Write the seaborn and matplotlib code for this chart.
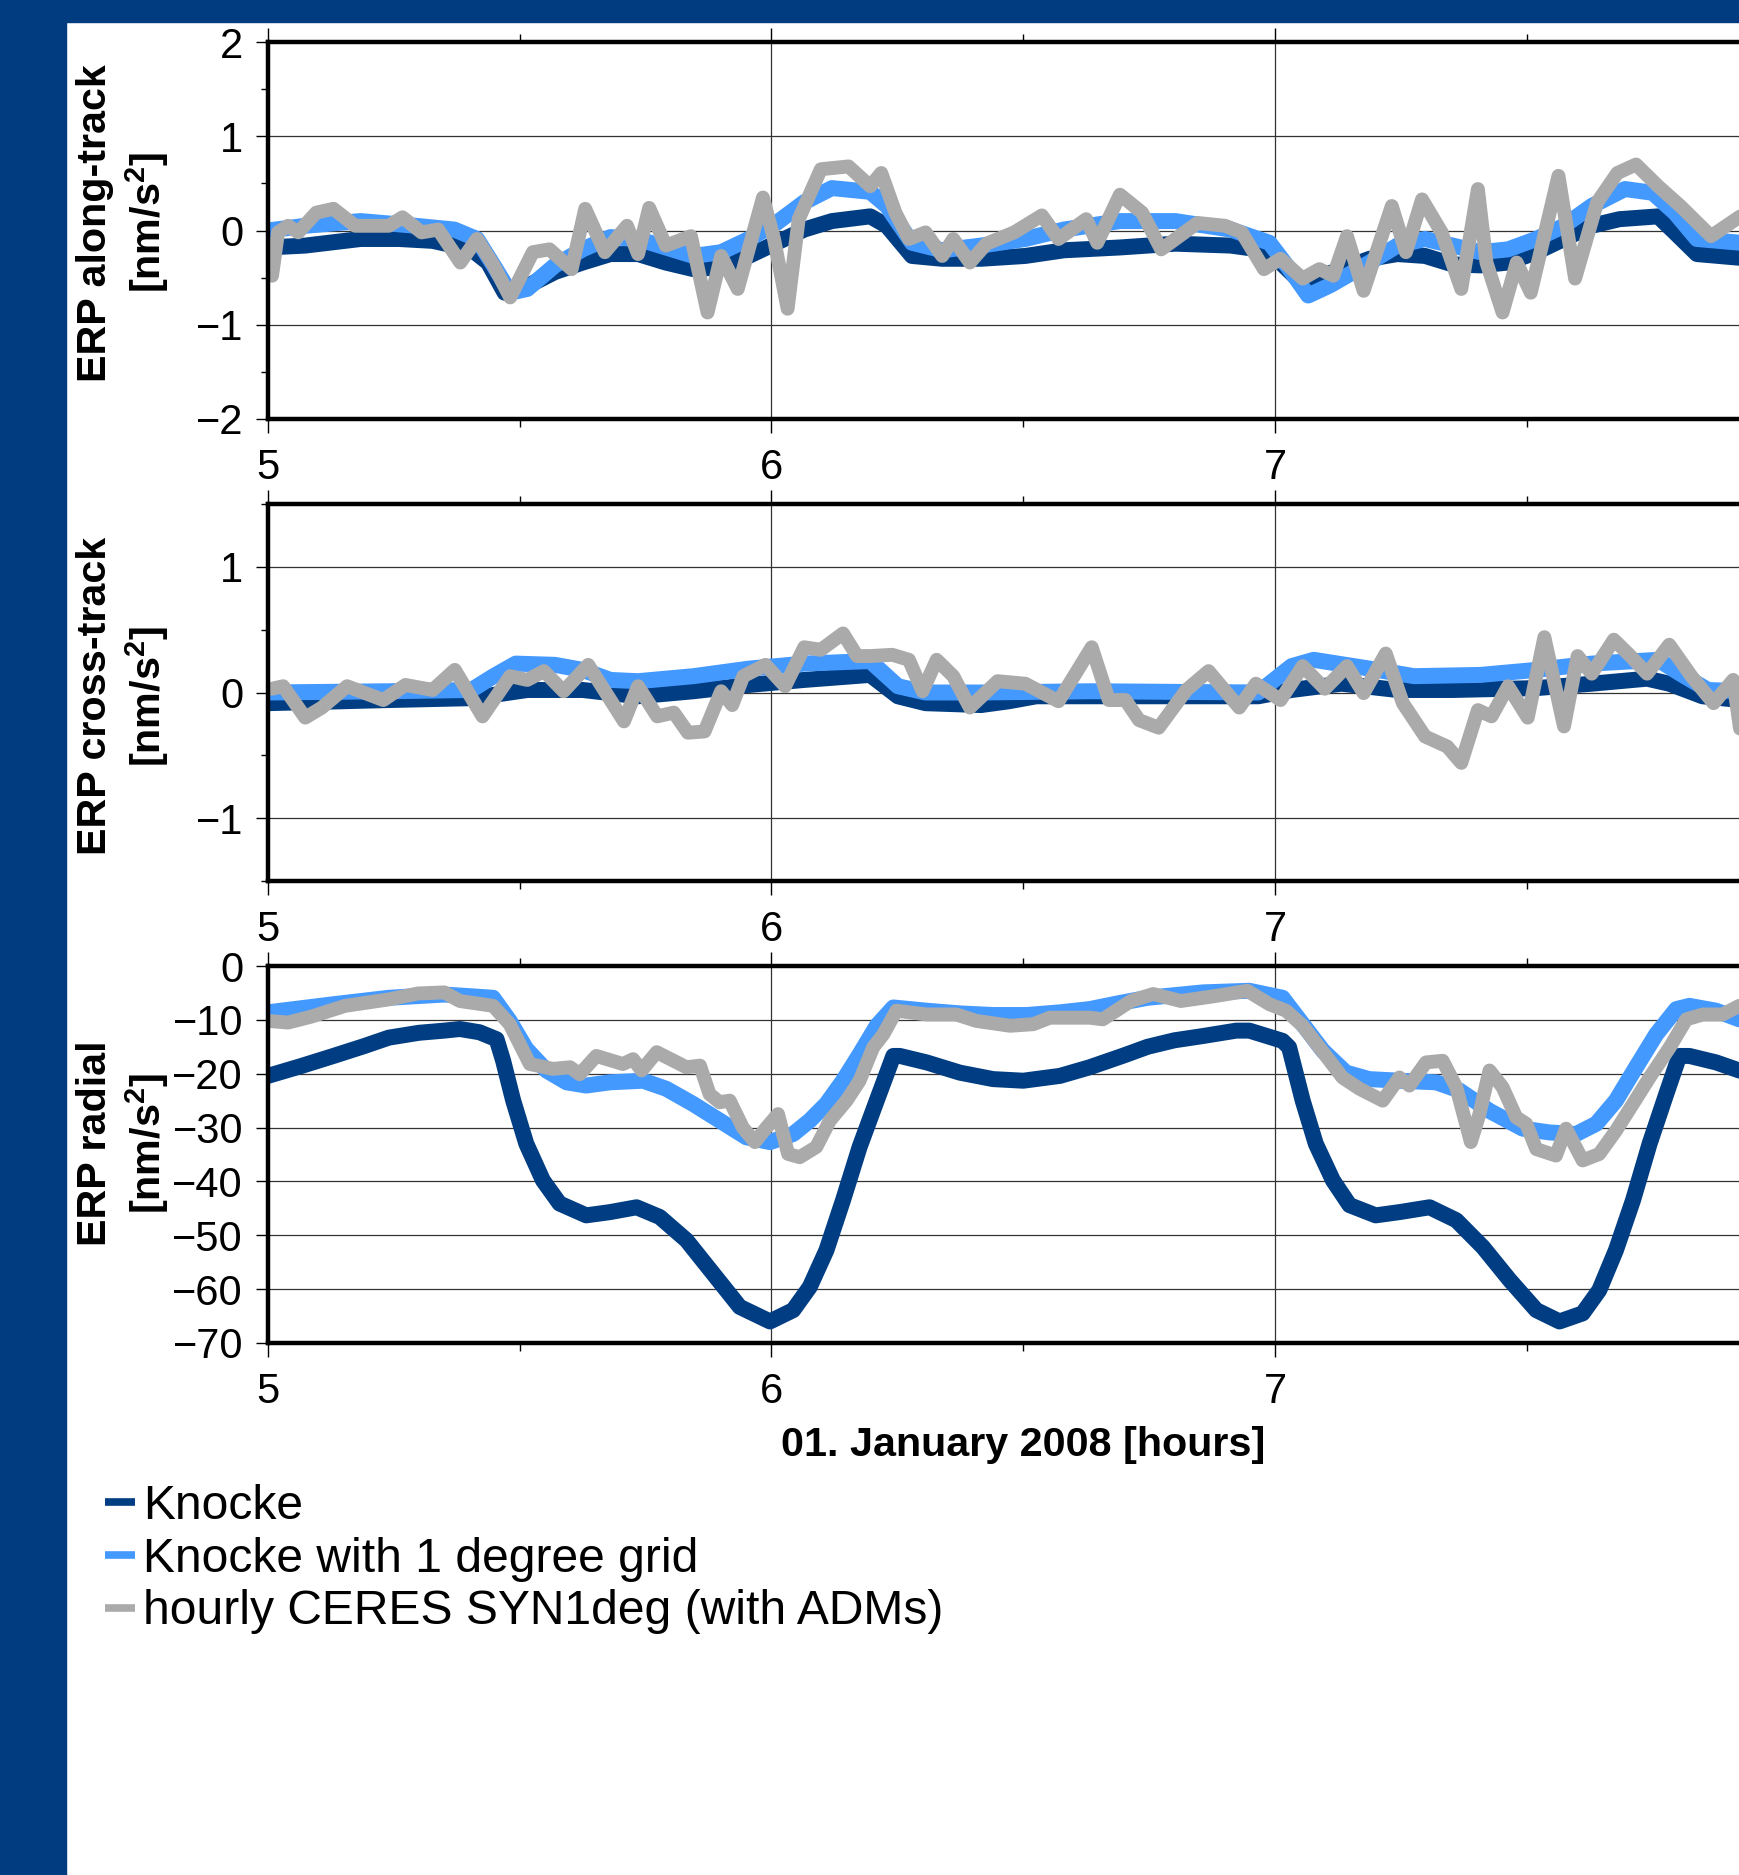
import numpy as np
import pandas as pd
import matplotlib
matplotlib.use("Agg")
import matplotlib.pyplot as plt
from matplotlib.patches import Rectangle
from matplotlib.ticker import MultipleLocator, NullLocator, FuncFormatter
import seaborn as sns

# colours
dark_blue = '#003D82'
light_blue = '#4499FF'
grey = '#AAAAAA'
band_blue = '#013C80'

# ---- along-track ----
t_along_knocke = [5.0, 5.074, 5.184, 5.26, 5.327, 5.404, 5.437, 5.47, 5.515, 5.57, 5.625, 5.68, 5.735,
                  5.79, 5.845, 5.9, 5.955, 6.01, 6.065, 6.12, 6.196, 6.229, 6.279, 6.339, 6.416, 6.504,
                  6.581, 6.692, 6.802, 6.912, 6.967, 7.011, 7.044, 7.077, 7.132, 7.188, 7.243, 7.298,
                  7.353, 7.408, 7.463, 7.519, 7.574, 7.629, 7.684, 7.761, 7.794, 7.838, 7.924, 8.0]
along_knocke = [-0.18, -0.16, -0.09, -0.09, -0.11, -0.2, -0.34, -0.66, -0.59, -0.44, -0.34, -0.25, -0.25,
                -0.34, -0.41, -0.39, -0.27, -0.13, 0.01, 0.1, 0.15, 0.05, -0.27, -0.3, -0.3, -0.27,
                -0.21, -0.18, -0.14, -0.16, -0.2, -0.34, -0.51, -0.51, -0.41, -0.3, -0.25, -0.27,
                -0.36, -0.37, -0.34, -0.23, -0.09, 0.05, 0.12, 0.15, -0.02, -0.25, -0.29, -0.3]

t_along_grid = [5.0, 5.074, 5.184, 5.293, 5.37, 5.415, 5.448, 5.481, 5.515, 5.57, 5.625, 5.68, 5.735,
                5.79, 5.845, 5.9, 5.955, 6.01, 6.065, 6.12, 6.196, 6.229, 6.279, 6.339, 6.416, 6.504,
                6.581, 6.692, 6.802, 6.912, 6.989, 7.033, 7.066, 7.11, 7.188, 7.243, 7.298, 7.353,
                7.408, 7.463, 7.519, 7.574, 7.629, 7.695, 7.75, 7.794, 7.838, 7.924, 8.0]
along_grid = [0.0, 0.05, 0.1, 0.05, 0.01, -0.09, -0.37, -0.66, -0.62, -0.37, -0.2, -0.07, -0.09,
              -0.18, -0.27, -0.23, -0.09, 0.08, 0.3, 0.45, 0.41, 0.26, -0.13, -0.21, -0.16, -0.09,
              0.01, 0.1, 0.1, 0.01, -0.13, -0.44, -0.69, -0.58, -0.34, -0.16, -0.09, -0.16,
              -0.23, -0.2, -0.09, 0.05, 0.26, 0.44, 0.4, 0.19, -0.09, -0.13, -0.14]

t_along_ceres = [5.008, 5.02, 5.04, 5.06, 5.096, 5.13, 5.173, 5.24, 5.267, 5.305, 5.338, 5.382, 5.415,
                 5.448, 5.481, 5.526, 5.559, 5.603, 5.63, 5.669, 5.713, 5.735, 5.757, 5.79, 5.84,
                 5.873, 5.9, 5.933, 5.983, 6.005, 6.032, 6.054, 6.098, 6.153, 6.196, 6.218, 6.246,
                 6.273, 6.306, 6.339, 6.361, 6.394, 6.427, 6.482, 6.537, 6.57, 6.625, 6.647, 6.692,
                 6.736, 6.774, 6.846, 6.901, 6.934, 6.978, 7.011, 7.055, 7.088, 7.116, 7.143, 7.176,
                 7.232, 7.26, 7.292, 7.331, 7.37, 7.403, 7.42, 7.452, 7.48, 7.508, 7.563, 7.596,
                 7.64, 7.68, 7.717, 7.761, 7.805, 7.866, 7.924, 7.96, 8.0]
along_ceres = [-0.48, -0.02, 0.05, -0.02, 0.19, 0.23, 0.05, 0.05, 0.14, -0.02, 0.01, -0.34, -0.09,
               -0.37, -0.71, -0.23, -0.2, -0.41, 0.23, -0.23, 0.05, -0.25, 0.24, -0.16, -0.06,
               -0.87, -0.27, -0.62, 0.35, -0.09, -0.83, 0.12, 0.65, 0.68, 0.47, 0.61, 0.19,
               -0.09, -0.02, -0.27, -0.09, -0.34, -0.14, -0.02, 0.16, -0.09, 0.12, -0.13, 0.38,
               0.19, -0.2, 0.08, 0.05, -0.02, -0.41, -0.3, -0.51, -0.41, -0.48, -0.06, -0.64,
               0.26, -0.23, 0.33, -0.02, -0.62, 0.44, -0.34, -0.87, -0.34, -0.66, 0.58, -0.51,
               0.3, 0.61, 0.7, 0.47, 0.26, -0.06, 0.15, 0.05, 0.0]

# ---- cross-track ----
t_cross_knocke = [5.0, 5.24, 5.404, 5.515, 5.625, 5.735, 5.845, 5.955, 6.065, 6.196, 6.251, 6.306,
                  6.416, 6.471, 6.526, 6.747, 6.967, 7.033, 7.132, 7.243, 7.353, 7.519, 7.629,
                  7.739, 7.783, 7.849, 7.924, 8.0]
cross_knocke = [-0.085, -0.06, -0.045, 0.02, 0.02, -0.03, 0.01, 0.06, 0.1, 0.14, -0.03, -0.085,
                -0.1, -0.07, -0.03, -0.03, -0.03, 0.02, 0.07, 0.02, 0.02, 0.035, 0.07,
                0.11, 0.07, -0.03, -0.06, -0.07]

t_cross_grid = [5.0, 5.24, 5.404, 5.448, 5.492, 5.57, 5.625, 5.68, 5.735, 5.845, 5.955, 6.065,
                6.196, 6.251, 6.306, 6.416, 6.636, 6.967, 7.033, 7.077, 7.188, 7.276, 7.408,
                7.519, 7.629, 7.761, 7.805, 7.86, 7.924, 8.0]
cross_grid = [0.0, 0.01, 0.02, 0.13, 0.23, 0.22, 0.18, 0.1, 0.09, 0.13, 0.19, 0.23,
              0.25, 0.05, 0.0, 0.0, 0.01, 0.0, 0.21, 0.26, 0.19, 0.13, 0.14,
              0.18, 0.23, 0.26, 0.15, 0.02, 0.01, 0.0]

t_cross_ceres = [5.008, 5.03, 5.074, 5.107, 5.157, 5.229, 5.273, 5.327, 5.371, 5.426, 5.481, 5.515,
                 5.548, 5.587, 5.636, 5.707, 5.735, 5.773, 5.806, 5.834, 5.867, 5.9, 5.922, 5.944,
                 5.988, 6.027, 6.065, 6.098, 6.142, 6.17, 6.196, 6.24, 6.273, 6.3, 6.328, 6.361,
                 6.394, 6.449, 6.504, 6.57, 6.636, 6.67, 6.703, 6.73, 6.769, 6.824, 6.868, 6.929,
                 6.962, 7.011, 7.055, 7.099, 7.143, 7.176, 7.22, 7.254, 7.298, 7.342, 7.37, 7.403,
                 7.43, 7.463, 7.502, 7.535, 7.574, 7.601, 7.629, 7.673, 7.706, 7.739, 7.783,
                 7.827, 7.871, 7.91, 7.924, 7.96, 8.0]
cross_ceres = [0.03, 0.05, -0.2, -0.12, 0.05, -0.06, 0.06, 0.02, 0.18, -0.19, 0.13, 0.1,
               0.17, 0.01, 0.22, -0.23, 0.05, -0.19, -0.16, -0.32, -0.31, 0.01, -0.1, 0.13,
               0.22, 0.05, 0.36, 0.34, 0.47, 0.29, 0.29, 0.3, 0.26, 0.01, 0.26, 0.13,
               -0.12, 0.09, 0.07, -0.07, 0.36, -0.06, -0.06, -0.22, -0.28, 0.02, 0.17, -0.12,
               0.07, -0.06, 0.21, 0.03, 0.21, -0.005, 0.31, -0.085, -0.35, -0.43, -0.56, -0.14,
               -0.19, 0.05, -0.2, 0.44, -0.27, 0.29, 0.15, 0.42, 0.29, 0.15, 0.38,
               0.13, -0.085, 0.1, -0.3, -0.2, -0.1]

# ---- radial ----
t_radial_knocke = [5.0, 5.065, 5.13, 5.19, 5.24, 5.3, 5.35, 5.381, 5.42, 5.454, 5.467, 5.487, 5.513,
                   5.546, 5.579, 5.632, 5.679, 5.732, 5.778, 5.831, 5.884, 5.937, 5.997, 6.043,
                   6.076, 6.109, 6.142, 6.175, 6.209, 6.242, 6.255, 6.308, 6.374, 6.44, 6.5, 6.573,
                   6.632, 6.7, 6.747, 6.8, 6.857, 6.923, 6.949, 7.015, 7.028, 7.055, 7.081, 7.115,
                   7.148, 7.2, 7.247, 7.307, 7.36, 7.413, 7.466, 7.519, 7.565, 7.611, 7.644, 7.677,
                   7.711, 7.744, 7.777, 7.803, 7.823, 7.876, 7.922, 8.0]
radial_knocke = [-20.4, -18.6, -16.7, -14.9, -13.3, -12.4, -12.0, -11.7, -12.3, -13.6, -17.6, -25.0, -33.0,
                 -39.8, -44.1, -46.3, -45.7, -44.8, -46.6, -50.9, -57.1, -63.3, -66.0, -63.9,
                 -59.6, -52.8, -43.5, -33.6, -25.0, -16.7, -16.7, -17.9, -19.8, -21.0, -21.3, -20.4,
                 -18.8, -16.6, -15.0, -13.8, -13.0, -12.0, -12.0, -13.9, -15.1, -25.0, -33.0, -39.8,
                 -44.4, -46.3, -45.7, -44.8, -47.2, -52.2, -58.3, -63.9, -66.0, -64.5, -60.2, -52.8,
                 -43.5, -33.0, -23.8, -16.7, -16.7, -17.9, -19.4, -21.0]

t_radial_grid = [5.0, 5.13, 5.24, 5.35, 5.40, 5.447, 5.48, 5.513, 5.553, 5.593, 5.632, 5.679, 5.745,
                 5.791, 5.844, 5.897, 5.95, 5.997, 6.043, 6.076, 6.109, 6.142, 6.175, 6.209, 6.242,
                 6.308, 6.374, 6.44, 6.507, 6.573, 6.632, 6.69, 6.747, 6.857, 6.949, 7.015, 7.055,
                 7.095, 7.141, 7.187, 7.247, 7.32, 7.366, 7.426, 7.492, 7.545, 7.598, 7.638, 7.677,
                 7.717, 7.757, 7.797, 7.823, 7.876, 7.922, 8.0]
radial_grid = [-8.6, -7.1, -5.9, -5.3, -5.6, -5.9, -10.2, -15.4, -19.4, -21.6, -22.2, -21.6, -21.3,
               -22.8, -25.6, -28.7, -31.8, -32.7, -31.2, -28.7, -25.6, -21.3, -16.4, -11.1, -7.7,
               -8.3, -8.8, -9.1, -9.1, -8.6, -8.0, -6.9, -5.9, -4.9, -4.6, -5.9, -10.8,
               -15.7, -19.8, -21.0, -21.3, -21.6, -23.1, -26.9, -30.2, -30.9, -31.2, -29.3, -25.0,
               -18.8, -12.7, -8.0, -7.4, -8.3, -9.9, -10.5]

t_radial_ceres = [5.0, 5.04, 5.086, 5.153, 5.24, 5.298, 5.35, 5.381, 5.447, 5.48, 5.52, 5.566, 5.6,
                  5.619, 5.652, 5.705, 5.725, 5.742, 5.772, 5.831, 5.858, 5.877, 5.897, 5.917, 5.943,
                  5.967, 5.99, 6.013, 6.033, 6.056, 6.089, 6.116, 6.149, 6.175, 6.202, 6.222, 6.248,
                  6.308, 6.367, 6.407, 6.474, 6.52, 6.553, 6.632, 6.658, 6.714, 6.758, 6.813, 6.88,
                  6.945, 6.989, 7.022, 7.055, 7.088, 7.134, 7.168, 7.214, 7.247, 7.267, 7.3, 7.333,
                  7.36, 7.389, 7.406, 7.426, 7.452, 7.479, 7.499, 7.519, 7.558, 7.578, 7.611, 7.644,
                  7.677, 7.711, 7.744, 7.784, 7.817, 7.85, 7.889, 7.922, 8.0]
radial_ceres = [-10.2, -10.5, -9.4, -7.4, -6.2, -5.1, -4.9, -6.5, -7.4, -10.8, -18.2, -19.1, -18.8,
                -20.1, -16.7, -18.2, -17.3, -19.4, -16.0, -18.8, -18.5, -23.8, -25.3, -25.0, -30.0,
                -32.7, -30.0, -27.5, -34.9, -35.5, -33.6, -28.7, -25.0, -21.3, -15.1, -12.7, -8.3,
                -9.0, -9.0, -10.2, -11.1, -10.8, -9.6, -9.6, -9.9, -6.5, -5.2, -6.5, -5.6,
                -4.6, -7.1, -8.3, -11.1, -15.1, -20.7, -22.8, -25.0, -20.7, -22.2, -17.9, -17.6,
                -22.5, -32.7, -27.5, -19.4, -22.5, -28.1, -29.3, -34.0, -35.2, -30.2, -36.1, -34.9,
                -30.6, -25.6, -20.7, -15.1, -9.9, -9.0, -9.0, -7.4, -8.0]

labels = ['Knocke', 'Knocke with 1 degree grid', 'hourly CERES SYN1deg (with ADMs)']
ylabels = ['ERP along-track\n[nm/s$^{\\mathbf{2}}$]',
           'ERP cross-track\n[nm/s$^{\\mathbf{2}}$]',
           'ERP radial\n[nm/s$^{\\mathbf{2}}$]']
ylabel_y = [0.52, 0.49, 0.53]

panels = [
    ((t_along_knocke, along_knocke), (t_along_grid, along_grid), (t_along_ceres, along_ceres)),
    ((t_cross_knocke, cross_knocke), (t_cross_grid, cross_grid), (t_cross_ceres, cross_ceres)),
    ((t_radial_knocke, radial_knocke), (t_radial_grid, radial_grid), (t_radial_ceres, radial_ceres)),
]
ylims = [(-2, 2), (-1.5, 1.5), (-70, 0)]

sns.set_theme(style='white')
plt.rcParams['font.family'] = ['Liberation Sans', 'DejaVu Sans']
plt.rcParams['mathtext.fontset'] = 'custom'
plt.rcParams['mathtext.rm'] = 'Liberation Sans'
plt.rcParams['mathtext.bf'] = 'Liberation Sans:bold'
plt.rcParams['text.color'] = 'black'
plt.rcParams['axes.labelcolor'] = 'black'
plt.rcParams['xtick.color'] = 'black'
plt.rcParams['ytick.color'] = 'black'

W, H = 1740, 1875
fig = plt.figure(figsize=(W / 100, H / 100), dpi=100)
fig.patch.set_facecolor('white')

# blue frame bands
fig.patches.append(Rectangle((0, 0), 66 / W, 1, transform=fig.transFigure, color=band_blue, zorder=0))
fig.patches.append(Rectangle((0, 1 - 22 / H), 1, 22 / H, transform=fig.transFigure, color=band_blue, zorder=0))

left = 268 / W
width = 3 * 503.5 / W
tops = [42, 504, 966]
ph = 377

# hour 8 sits just past the right edge, so no label there
hour_fmt = FuncFormatter(lambda v, p: '' if v > 7.5 else '%d' % v)

axes = []
colors = [dark_blue, light_blue, grey]
lws = [11.5, 11.5, 10]
for i, top in enumerate(tops):
    ax = fig.add_axes([left, 1 - (top + ph) / H, width, ph / H])
    axes.append(ax)
    for (tx, vy), c, lw, lab in zip(panels[i], colors, lws, labels):
        sns.lineplot(x=tx, y=vy, color=c, ax=ax, sort=False, estimator=None,
                     legend=False, label=lab, linewidth=lw,
                     solid_capstyle='round', solid_joinstyle='round')
    ax.set_xlim(5, 8)
    ax.set_ylim(*ylims[i])
    ax.xaxis.set_major_locator(MultipleLocator(1))
    ax.xaxis.set_minor_locator(MultipleLocator(0.5))
    ax.xaxis.set_major_formatter(hour_fmt)
    if i < 2:
        ax.yaxis.set_major_locator(MultipleLocator(1))
        ax.yaxis.set_minor_locator(MultipleLocator(0.5))
    else:
        ax.yaxis.set_major_locator(MultipleLocator(10))
        ax.yaxis.set_minor_locator(NullLocator())
    ax.grid(True, which='major', color='#333333', lw=0.9)
    ax.set_axisbelow(True)
    for s in ['top', 'bottom', 'left', 'right']:
        ax.spines[s].set_visible(True)
        ax.spines[s].set_linewidth(3.2)
        ax.spines[s].set_color('black')
    ax.tick_params(axis='x', which='both', top=True, bottom=True, direction='out',
                   labelsize=30, pad=11, color='black', width=1)
    ax.tick_params(axis='x', which='major', length=10)
    ax.tick_params(axis='x', which='minor', length=6)
    ax.tick_params(axis='y', which='both', left=True, direction='out',
                   labelsize=30, pad=9, color='black', width=1)
    ax.tick_params(axis='y', which='major', length=9)
    ax.tick_params(axis='y', which='minor', length=5)
    ax.set_xlabel('')
    ax.set_ylabel(ylabels[i], fontsize=29.7, fontweight='bold', linespacing=1.25)
    ax.yaxis.set_label_coords(-0.064, ylabel_y[i])
    ax.set_facecolor('white')

axes[2].set_xlabel('01. January 2008 [hours]', fontsize=29.7, fontweight='bold', labelpad=10)

handles = axes[2].get_lines()[:3]
leg = fig.legend(handles, labels, loc='upper left', bbox_to_anchor=(105 / W, 1 - 1484 / H),
                 frameon=False, fontsize=34.6, handlelength=0.63, handletextpad=0.17,
                 labelspacing=0.16, borderpad=0, borderaxespad=0)
for ln in leg.get_lines():
    ln.set_linewidth(5.5)
    ln.set_solid_capstyle('butt')

fig.savefig('out.png', dpi=100)
